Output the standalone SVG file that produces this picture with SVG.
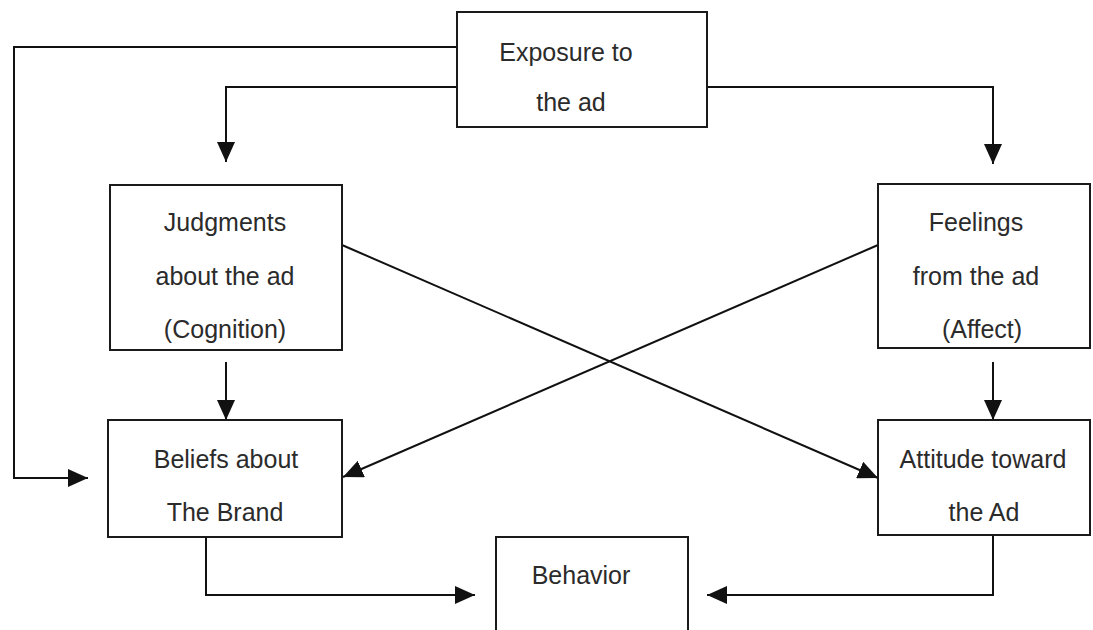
<svg xmlns="http://www.w3.org/2000/svg" width="1093" height="630" viewBox="0 0 1093 630">
  <defs>
    <marker id="arrow" markerUnits="userSpaceOnUse" markerWidth="20" markerHeight="18" viewBox="0 0 20 18" refX="20" refY="9" orient="auto">
      <path d="M0,0 L20,9 L0,18 Z" fill="#111"/>
    </marker>
    <style>
      .box { fill: #fff; stroke: #1a1a1a; stroke-width: 2; }
      .lbl { font-family: "Liberation Sans", Arial, Helvetica, sans-serif; font-size: 25px; fill: #2b2b2b; text-anchor: middle; }
      .conn { fill: none; stroke: #111; stroke-width: 2; }
    </style>
  </defs>
  <rect width="1093" height="630" fill="#fff"/>

  <!-- connectors -->
  <g id="connectors">
    <path class="conn" d="M457,47 H14 V478 H88" marker-end="url(#arrow)"/>
    <path class="conn" d="M457,87 H226 V162" marker-end="url(#arrow)"/>
    <path class="conn" d="M707,87 H993 V164" marker-end="url(#arrow)"/>
    <path class="conn" d="M226,362 V420" marker-end="url(#arrow)"/>
    <path class="conn" d="M993,362 V420" marker-end="url(#arrow)"/>
    <path class="conn" d="M342,245 L878,478" marker-end="url(#arrow)"/>
    <path class="conn" d="M878,245 L343,477" marker-end="url(#arrow)"/>
    <path class="conn" d="M206,537 V595 H475" marker-end="url(#arrow)"/>
    <path class="conn" d="M993,535 V595 H707" marker-end="url(#arrow)"/>
  </g>

  <g id="exposure">
    <rect class="box" x="457" y="12" width="250" height="115"/>
    <text class="lbl" x="566" y="61">Exposure to</text>
    <text class="lbl" x="571" y="111">the ad</text>
  </g>

  <g id="judgments">
    <rect class="box" x="110" y="185" width="232" height="165"/>
    <text class="lbl" x="225" y="231">Judgments</text>
    <text class="lbl" x="225" y="285">about the ad</text>
    <text class="lbl" x="225" y="338">(Cognition)</text>
  </g>

  <g id="feelings">
    <rect class="box" x="878" y="184" width="212" height="164"/>
    <text class="lbl" x="976" y="231">Feelings</text>
    <text class="lbl" x="976" y="285">from the ad</text>
    <text class="lbl" x="982" y="338">(Affect)</text>
  </g>

  <g id="beliefs">
    <rect class="box" x="108" y="420" width="234" height="117"/>
    <text class="lbl" x="226" y="468">Beliefs about</text>
    <text class="lbl" x="225" y="521">The Brand</text>
  </g>

  <g id="attitude">
    <rect class="box" x="878" y="420" width="212" height="115"/>
    <text class="lbl" x="983" y="468">Attitude toward</text>
    <text class="lbl" x="984" y="521">the Ad</text>
  </g>

  <g id="behavior">
    <rect class="box" x="496" y="537" width="192" height="100"/>
    <text class="lbl" x="581" y="584">Behavior</text>
  </g>
</svg>
